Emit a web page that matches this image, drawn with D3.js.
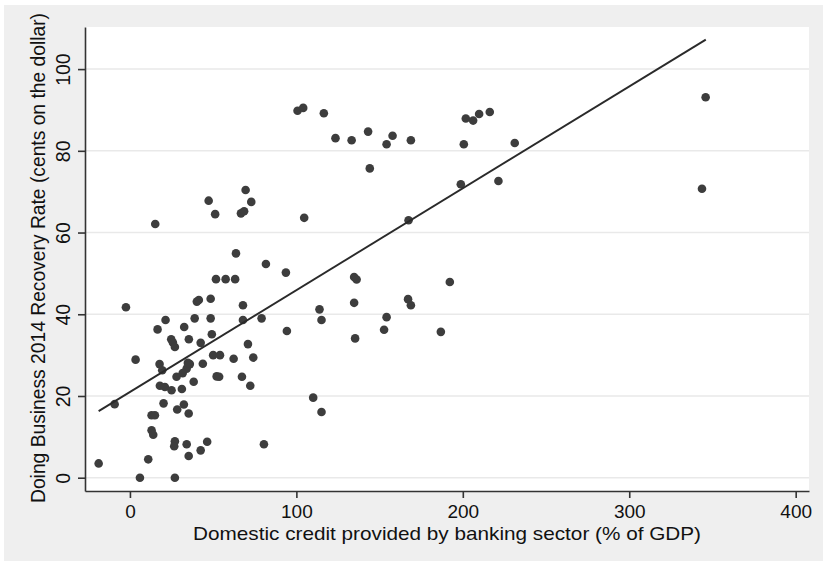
<!DOCTYPE html>
<html>
<head>
<meta charset="utf-8">
<script src="https://cdn.jsdelivr.net/npm/d3@7"></script>
<style>
  body { margin: 0; background: #fff; }
  svg { display: block; font-family: "Liberation Sans", Arial, sans-serif; }
</style>
</head>
<body>
<div id="visContainer"></div>
<script>
// domestic credit (% of GDP) vs recovery rate
const credit = [63.7, 81.7, 93.7, 51.7, 57.5, 63.2, -2.4, 40.2, 41.4, 48.5,
  67.9, 21.4, 38.9, 48.5, 67.9, 79.1, 16.6, 32.6, 49.2, 24.8,
  25.8, 27.0, 35.4, 42.5, 70.9, 94.3, 50.0, 54.1, 3.4, 62.3,
  74.1, 17.8, 19.4, 36.0, 34.1, 31.7, 28.0, 34.8, 43.8, 52.1,
  53.6, 38.3, 67.3, 72.3, 18.0, 21.0, 25.0, 31.2, -9.2, 20.2,
  32.4, 28.4, 35.3, 13.0, 15.0, 13.0, 14.0, 27.0, 26.6, 34.1,
  46.4, 42.5, 35.3, 80.5, 11.0, -18.8, 6.0, 27.0, 110.1, 115.1,
  113.9, 115.1, 100.7, 104.1, 69.5, 47.3, 51.2, 72.9, 66.7, 68.6,
  104.7, 15.2, 116.5, 123.5, 133.2, 143.1, 157.8, 154.2, 168.8, 144.1,
  201.8, 206.2, 209.8, 216.2, 200.6, 231.2, 198.8, 221.4, 167.4, 134.7,
  136.2, 192.2, 134.7, 167.1, 168.8, 154.2, 152.7, 135.3, 186.8, 345.9,
  343.7];

const recovery = [54.9, 52.3, 50.2, 48.6, 48.6, 48.6, 41.7, 43.1, 43.5, 43.8,
  42.2, 38.6, 39.0, 39.0, 38.6, 39.0, 36.3, 36.9, 35.1, 33.9,
  33.1, 32.0, 33.9, 33.0, 32.7, 35.9, 30.0, 30.0, 28.9, 29.1,
  29.4, 27.8, 26.3, 27.8, 26.7, 25.6, 24.7, 28.1, 27.9, 24.8,
  24.7, 23.5, 24.7, 22.5, 22.5, 22.2, 21.4, 21.7, 18.0, 18.2,
  17.9, 16.7, 15.7, 15.3, 15.3, 11.6, 10.5, 8.9, 7.7, 8.2,
  8.8, 6.7, 5.3, 8.2, 4.5, 3.5, 0, 0, 19.6, 16.1,
  41.2, 38.6, 89.8, 90.5, 70.4, 67.8, 64.5, 67.5, 64.7, 65.2,
  63.6, 62.1, 89.2, 83.1, 82.6, 84.7, 83.7, 81.6, 82.6, 75.7,
  87.9, 87.4, 89.0, 89.5, 81.6, 81.9, 71.8, 72.6, 63.0, 49.1,
  48.5, 47.9, 42.8, 43.7, 42.2, 39.3, 36.2, 34.1, 35.7, 93.1,
  70.7];

// fitted line end points
const fitX = [-18.8, 346.0];
const fitY = [16.3, 107.2];

const xTicks = [0, 100, 200, 300, 400];
const yTicks = [0, 20, 40, 60, 80, 100];

const xTitle = "Domestic credit provided by banking sector (% of GDP)";
const yTitle = "Doing Business 2014 Recovery Rate (cents on the dollar)";

const width = 823;
const height = 561;
const plot = {left: 85, right: 809, top: 27, bottom: 491};

const svg = d3.select("#visContainer")
  .append("svg")
  .attr("width", width)
  .attr("height", height);

// outer grey panel
svg.append("rect")
  .attr("x", 4).attr("y", 5)
  .attr("width", width - 4).attr("height", height - 5)
  .attr("fill", "#efefef");

svg.append("rect")
  .attr("x", plot.left).attr("y", plot.top)
  .attr("width", plot.right - plot.left)
  .attr("height", plot.bottom - plot.top)
  .attr("fill", "#fff");

const xScale = d3.scaleLinear()
  .domain([-27, 408])
  .range([plot.left, plot.right]);

const yScale = d3.scaleLinear()
  .domain([-3.25, 110.3])
  .range([plot.bottom, plot.top]);

// grid lines
svg.append("g")
  .selectAll("line")
  .data(yTicks)
  .join("line")
  .attr("x1", plot.left)
  .attr("x2", plot.right)
  .attr("y1", d => yScale(d))
  .attr("y2", d => yScale(d))
  .attr("stroke", "#e9e9e9")
  .attr("stroke-width", 1.5);

const points = credit.map((c, i) => ({x: c, y: recovery[i]}));

svg.append("g")
  .selectAll("circle")
  .data(points)
  .join("circle")
  .attr("cx", d => xScale(d.x))
  .attr("cy", d => yScale(d.y))
  .attr("r", 4.3)
  .attr("fill", "#3d3d3d");

svg.append("line")
  .attr("x1", xScale(fitX[0]))
  .attr("y1", yScale(fitY[0]))
  .attr("x2", xScale(fitX[1]))
  .attr("y2", yScale(fitY[1]))
  .attr("stroke", "#2a2a2a")
  .attr("stroke-width", 1.9);

// axes
const xAxis = svg.append("g")
  .attr("transform", `translate(0, ${plot.bottom})`)
  .call(d3.axisBottom(xScale).tickValues(xTicks).tickSize(7).tickSizeOuter(0).tickFormat(d3.format("d")));

xAxis.select(".domain").attr("stroke", "#333").attr("stroke-width", 1.6);
xAxis.selectAll(".tick line").attr("stroke", "#333").attr("stroke-width", 1.6);
xAxis.selectAll(".tick text")
  .attr("y", 27)
  .attr("dy", 0)
  .attr("font-size", 19)
  .attr("fill", "#111");

const yAxis = svg.append("g")
  .attr("transform", `translate(${plot.left}, 0)`)
  .call(d3.axisLeft(yScale).tickValues(yTicks).tickSize(7).tickSizeOuter(0).tickFormat(d3.format("d")));

yAxis.select(".domain").attr("stroke", "#333").attr("stroke-width", 1.6);
yAxis.selectAll(".tick line").attr("stroke", "#333").attr("stroke-width", 1.6);
yAxis.selectAll(".tick text")
  .attr("transform", "rotate(-90)")
  .attr("x", 0)
  .attr("y", -15)
  .attr("dy", 0)
  .attr("text-anchor", "middle")
  .attr("font-size", 19.5)
  .attr("fill", "#111");

svg.append("text")
  .attr("x", (plot.left + plot.right) / 2)
  .attr("y", 540)
  .attr("text-anchor", "middle")
  .attr("font-size", 19)
  .attr("fill", "#111")
  .attr("textLength", 508)
  .attr("lengthAdjust", "spacingAndGlyphs")
  .text(xTitle);

svg.append("text")
  .attr("transform", `translate(45, 258) rotate(-90)`)
  .attr("text-anchor", "middle")
  .attr("font-size", 19.5)
  .attr("fill", "#111")
  .attr("textLength", 490)
  .attr("lengthAdjust", "spacingAndGlyphs")
  .text(yTitle);
</script>
</body>
</html>
